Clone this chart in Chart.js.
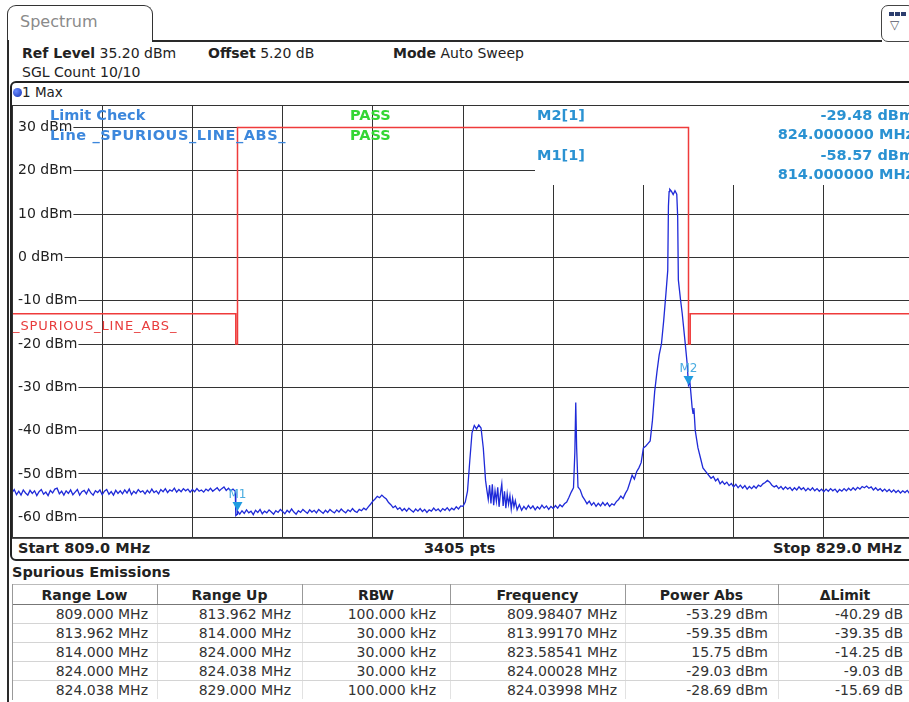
<!DOCTYPE html>
<html>
<head>
<meta charset="utf-8">
<script src="https://cdn.jsdelivr.net/npm/chart.js@4.4.1/dist/chart.umd.min.js"></script>
<style>
html, body { margin:0; padding:0; width:909px; height:702px; overflow:hidden; background:#fff; }
body { position:relative; font-family:"DejaVu Sans", Verdana, sans-serif; font-size:14px; color:#222; }
.a { position:absolute; white-space:nowrap; line-height:1; }
.b { font-weight:bold; }
.ov { font-weight:bold; font-size:14.5px; }
.hl { position:absolute; background:#2a2a2a; }
.cell { position:absolute; white-space:nowrap; line-height:19px; height:19px; color:#333; }
</style>
</head>
<body>

<!-- tab + header frame -->
<div class="a" style="left:7px;top:5px;width:144px;height:36px;border:1.5px solid #333;border-bottom:none;border-radius:9px 9px 0 0;"></div>
<div class="a" style="left:20px;top:14px;font-size:16px;color:#8a8a8a;">Spectrum</div>
<div class="hl" style="left:152px;top:40px;width:730px;height:1.5px;"></div>
<div class="a" style="left:881px;top:5px;width:32px;height:35px;border:1.5px solid #444;border-radius:7px;"></div>
<div class="a" style="left:889px;top:12px;width:5px;height:4px;background:#2c3e6e;"></div>
<div class="a" style="left:895px;top:12px;width:5px;height:4px;background:#2c3e6e;"></div>
<div class="a" style="left:901px;top:12px;width:5px;height:4px;background:#2c3e6e;"></div>
<div class="a" style="left:890px;top:19px;font-size:12px;color:#556;">&#9661;</div>
<div class="hl" style="left:7px;top:40px;width:1.5px;height:662px;"></div>

<div class="a" style="left:22px;top:46px;"><span class="b">Ref Level</span> 35.20 dBm</div>
<div class="a" style="left:208px;top:46px;"><span class="b">Offset</span> 5.20 dB</div>
<div class="a" style="left:393px;top:46px;"><span class="b">Mode</span> Auto Sweep</div>
<div class="a" style="left:22px;top:65px;">SGL Count 10/10</div>

<!-- trace window box -->
<div class="a" style="left:10px;top:81px;width:905px;height:476px;border:2px solid #222;border-radius:6px 0 0 6px;"></div>
<div class="a" style="left:13px;top:88px;width:9px;height:9px;border-radius:50%;background:radial-gradient(circle at 35% 35%, #6b8cff, #1330b0);"></div>
<div class="a" style="left:22px;top:86px;font-size:13.5px;">1 Max</div>

<div id="plot" class="a" style="left:12px;top:105px;width:902px;height:433px;">
  <canvas id="spec" width="902" height="433"></canvas>
</div>

<!-- overlay texts inside the diagram -->
<div class="a ov" style="left:50px;top:108px;color:#3c87dc;">Limit Check</div>
<div class="a ov" style="left:50px;top:128px;color:#3c87dc;letter-spacing:0.6px;">Line _SPURIOUS_LINE_ABS_</div>
<div class="a ov" style="left:350px;top:108px;color:#34d634;">PASS</div>
<div class="a ov" style="left:350px;top:128px;color:#34d634;">PASS</div>
<div class="a ov" style="left:537px;top:108px;color:#2a92d2;">M2[1]</div>
<div class="a ov" style="left:537px;top:148px;color:#2a92d2;">M1[1]</div>
<div class="a ov" style="right:-5px;top:108px;color:#2a92d2;">-29.48 dBm</div>
<div class="a ov" style="right:-5px;top:127px;color:#2a92d2;">824.000000 MHz</div>
<div class="a ov" style="right:-5px;top:148px;color:#2a92d2;">-58.57 dBm</div>
<div class="a ov" style="right:-5px;top:167px;color:#2a92d2;">814.000000 MHz</div>
<div class="a" style="left:13px;top:319px;font-size:13px;letter-spacing:0.9px;color:#e83c3c;">_SPURIOUS_LINE_ABS_</div>

<!-- footer of the diagram -->
<div class="hl" style="left:12px;top:538px;width:902px;height:1px;background:#555;"></div>
<div class="a b" style="left:18px;top:541px;font-size:14.5px;">Start 809.0 MHz</div>
<div class="a b" style="left:424px;top:541px;font-size:14.5px;">3405 pts</div>
<div class="a b" style="left:773px;top:541px;font-size:14.5px;">Stop 829.0 MHz</div>

<div class="a b" style="left:12px;top:565px;font-size:14.5px;">Spurious Emissions</div>
<div id="table"></div>

<script>
// sweep axis (MHz) and level axis (dBm)
const freqTicks = [809, 811, 813, 815, 817, 819, 821, 823, 825, 827, 829];
const levelTicks = [30, 20, 10, 0, -10, -20, -30, -40, -50, -60];
const levelLabels = ['30 dBm', '20 dBm', '10 dBm', '0 dBm', '-10 dBm', '-20 dBm', '-30 dBm', '-40 dBm', '-50 dBm', '-60 dBm'];

// limit line _SPURIOUS_LINE_ABS_
const limitFreq = [809, 813.962, 814, 824, 824.038, 829];
const limitLevel = [-13, -20, 30, -20, -13, -13];

// trace 1 (max hold)
const traceFreq = [
  809.00, 809.05, 809.10, 809.15, 809.20, 809.25, 809.30, 809.35, 809.40, 809.45, 809.50, 809.55, 809.60, 809.65, 809.70, 809.75, 809.80, 809.85, 809.90, 809.95,
  810.00, 810.05, 810.10, 810.15, 810.20, 810.25, 810.30, 810.35, 810.40, 810.45, 810.50, 810.55, 810.60, 810.65, 810.70, 810.75, 810.80, 810.85, 810.90, 810.95,
  811.00, 811.05, 811.10, 811.15, 811.20, 811.25, 811.30, 811.35, 811.40, 811.45, 811.50, 811.55, 811.60, 811.65, 811.70, 811.75, 811.80, 811.85, 811.90, 811.95,
  812.00, 812.05, 812.10, 812.15, 812.20, 812.25, 812.30, 812.35, 812.40, 812.45, 812.50, 812.55, 812.60, 812.65, 812.70, 812.75, 812.80, 812.85, 812.90, 812.95,
  813.00, 813.05, 813.10, 813.15, 813.20, 813.25, 813.30, 813.35, 813.40, 813.45, 813.50, 813.55, 813.60, 813.65, 813.70, 813.75, 813.80, 813.85, 813.90, 813.95,
  813.96, 813.965, 813.99, 814.00,
  814.05, 814.10, 814.15, 814.20, 814.25, 814.30, 814.35, 814.40, 814.45, 814.50, 814.55, 814.60, 814.65, 814.70, 814.75, 814.80, 814.85, 814.90, 814.95,
  815.00, 815.05, 815.10, 815.15, 815.20, 815.25, 815.30, 815.35, 815.40, 815.45, 815.50, 815.55, 815.60, 815.65, 815.70, 815.75, 815.80, 815.85, 815.90, 815.95,
  816.00, 816.05, 816.10, 816.15, 816.20, 816.25, 816.30, 816.35, 816.40, 816.45, 816.50, 816.55, 816.60, 816.65, 816.70, 816.75, 816.80, 816.85, 816.90, 816.95,
  817.00, 817.05, 817.10, 817.15, 817.20, 817.25, 817.30, 817.35, 817.40, 817.45, 817.50, 817.55, 817.60, 817.65, 817.70, 817.75, 817.80, 817.85, 817.90, 817.95,
  818.00, 818.05, 818.10, 818.15, 818.20, 818.25, 818.30, 818.35, 818.40, 818.45, 818.50, 818.55, 818.60, 818.65, 818.70, 818.75, 818.80, 818.85, 818.90, 818.95,
  819.00, 819.05, 819.10, 819.15, 819.20, 819.25, 819.30, 819.35, 819.40, 819.45, 819.50,
  819.53, 819.56, 819.59, 819.62, 819.65, 819.68, 819.71, 819.74, 819.77, 819.80, 819.83, 819.86, 819.89, 819.92, 819.95, 819.98, 820.01, 820.04, 820.07, 820.10, 820.13, 820.16, 820.20, 820.25, 820.30,
  820.35, 820.40, 820.45, 820.50, 820.55, 820.60, 820.65, 820.70, 820.75, 820.80, 820.85, 820.90, 820.95,
  821.00, 821.05, 821.10, 821.15, 821.20, 821.25, 821.30, 821.35, 821.40, 821.45, 821.48, 821.50, 821.52, 821.55, 821.60, 821.65, 821.70, 821.75, 821.80, 821.85, 821.90, 821.95,
  822.00, 822.05, 822.10, 822.15, 822.20, 822.25, 822.30, 822.35, 822.40, 822.45, 822.50, 822.55, 822.60, 822.65, 822.70, 822.75, 822.80, 822.85, 822.90, 822.95,
  823.00, 823.05, 823.10, 823.15, 823.20, 823.25, 823.30, 823.35, 823.40, 823.45, 823.50, 823.54, 823.555, 823.57, 823.585, 823.62, 823.66, 823.70, 823.74, 823.76, 823.775, 823.82, 823.86, 823.92, 823.97,
  824.00, 824.03, 824.05, 824.08, 824.10, 824.12, 824.15, 824.21, 824.27, 824.32, 824.41, 824.50, 824.55,
  824.60, 824.65, 824.70, 824.75, 824.80, 824.85, 824.90, 824.95,
  825.00, 825.05, 825.10, 825.15, 825.20, 825.25, 825.30, 825.35, 825.40, 825.45, 825.50, 825.55, 825.60, 825.65, 825.70, 825.75, 825.80, 825.85, 825.90, 825.95,
  826.00, 826.05, 826.10, 826.15, 826.20, 826.25, 826.30, 826.35, 826.40, 826.45, 826.50, 826.55, 826.60, 826.65, 826.70, 826.75, 826.80, 826.85, 826.90, 826.95,
  827.00, 827.05, 827.10, 827.15, 827.20, 827.25, 827.30, 827.35, 827.40, 827.45, 827.50, 827.55, 827.60, 827.65, 827.70, 827.75, 827.80, 827.85, 827.90, 827.95,
  828.00, 828.05, 828.10, 828.15, 828.20, 828.25, 828.30, 828.35, 828.40, 828.45, 828.50, 828.55, 828.60, 828.65, 828.70, 828.75, 828.80, 828.85, 828.90, 828.95,
  829.00
];
const traceLevel = [
  -54.3, -53.6, -54.8, -54.0, -54.9, -53.7, -54.4, -54.9, -53.8, -54.5, -53.9, -55.0, -54.1, -53.6, -54.7, -54.2, -55.0, -53.8, -54.4, -53.5,
  -53.3, -54.6, -54.0, -54.9, -53.9, -54.5, -53.7, -54.8, -54.2, -53.6, -54.9, -54.1, -53.8, -54.6, -53.5, -54.4, -54.9, -53.9, -54.3, -53.7,
  -54.8, -54.0, -53.6, -54.7, -54.1, -54.9, -53.8, -54.5, -53.9, -54.6, -53.7, -54.4, -53.5, -54.8, -54.0, -54.5, -53.6, -54.2, -53.9, -54.6,
  -53.8, -54.4, -53.5, -54.3, -53.9, -54.6, -53.6, -54.1, -53.4, -54.3, -53.7, -54.0, -53.3, -54.2, -53.6, -54.1, -53.4, -53.9, -53.5, -54.2,
  -53.6, -54.1, -53.4, -54.0, -53.7, -54.2, -53.5, -53.9, -53.3, -54.0, -53.6, -53.2, -53.9, -53.4, -53.0, -53.8, -53.3, -53.9, -53.5, -54.0,
  -54.1, -59.6, -59.35, -58.57,
  -59.3, -58.5, -59.1, -58.3, -59.0, -58.6, -59.4, -58.4, -58.9, -58.2, -59.2, -58.6, -59.0, -58.3, -58.8, -59.3, -58.5, -58.9, -58.2,
  -58.7, -59.2, -58.4, -58.9, -58.1, -58.8, -59.3, -58.5, -58.9, -58.2, -58.7, -59.1, -58.3, -58.8, -58.4, -59.0, -58.2, -58.7, -59.1, -58.4,
  -58.9, -58.2, -58.7, -59.0, -58.3, -58.8, -58.1, -58.6, -59.0, -58.3, -58.7, -58.0, -58.6, -58.9, -58.2, -58.5, -57.9, -58.3, -57.6, -57.0,
  -56.3, -55.8, -55.2, -55.5, -54.9, -55.4, -55.8, -56.6, -57.1, -57.8, -57.4, -58.2, -57.8, -58.5, -58.0, -58.6, -57.9, -58.4, -58.8, -58.1,
  -58.6, -58.0, -58.7, -58.2, -58.9, -58.3, -58.6, -57.9, -58.5, -58.1, -58.7, -58.0, -58.4, -57.8, -58.5, -57.9, -58.3, -57.6, -58.1, -57.4,
  -57.5, -56.5, -54.0, -47.0, -40.5, -38.8, -39.6, -38.7, -39.4, -44.0, -51.5,
  -53.8, -55.9, -52.6, -56.8, -52.4, -57.2, -53.9, -56.3, -53.1, -57.6, -54.5, -52.3, -57.4, -54.0, -57.9, -54.6, -57.0, -55.0, -58.1, -55.6, -57.6, -56.2, -58.3, -57.1, -58.4,
  -57.5, -58.2, -57.3, -58.0, -57.4, -58.3, -57.6, -58.1, -57.2, -57.9, -57.4, -58.2, -57.5,
  -58.0, -57.3, -57.9, -57.1, -57.6, -56.9, -56.5, -55.4, -54.2, -53.2, -45.0, -33.5, -44.0, -53.0, -53.7, -55.2, -56.0, -56.9, -56.3, -57.2, -56.6, -57.5,
  -56.8, -57.4, -56.6, -57.3, -56.7, -57.5, -56.9, -57.2, -56.4, -55.9, -55.1, -55.7, -54.5, -53.6, -52.0, -50.3, -51.2, -49.5, -48.6, -47.4,
  -44.0, -43.6, -43.0, -42.4, -37.7, -31.0, -26.5, -22.5, -20.0, -14.6, -8.3, -3.0, 11.8, 15.2, 15.75, 15.3, 14.5, 15.4, 14.6, 9.4, -5.2, -9.5, -12.9, -19.1, -24.5,
  -29.48, -28.69, -31.0, -34.6, -36.0, -34.8, -40.0, -44.0, -46.5, -48.6, -49.8, -51.0, -50.6,
  -51.6, -51.1, -52.3, -51.7, -52.4, -51.9, -52.7, -52.2,
  -53.0, -52.4, -53.2, -52.6, -53.3, -52.7, -53.5, -52.9, -53.4, -52.8, -53.3, -52.6, -52.9, -52.3, -52.0, -51.5, -51.9, -52.6, -53.0, -52.7,
  -53.4, -52.9, -53.6, -53.0, -53.5, -53.1, -53.8, -53.2, -53.7, -53.0, -53.6, -53.2, -53.9, -53.3, -53.8, -53.2, -53.9, -53.4, -54.0, -53.5,
  -54.1, -53.5, -54.0, -53.4, -53.9, -53.5, -54.2, -53.6, -54.0, -53.4, -53.9, -53.3, -53.8, -53.2, -53.7, -53.1, -53.5, -52.9, -53.2, -52.8,
  -53.3, -53.0, -53.7, -53.2, -53.8, -53.4, -54.0, -53.5, -54.1, -53.6, -54.2, -53.7, -54.3, -53.8, -54.4, -53.9, -54.3, -53.8, -54.5, -54.0,
  -54.4
];
if (traceFreq.length !== traceLevel.length) console.error('trace length mismatch', traceFreq.length, traceLevel.length);

// markers
const markerName = ['M1', 'M2'];
const markerFreq = [814.0, 824.0];
const markerLevel = [-58.57, -29.48];

// spurious emissions table
const tableHead = ['Range Low', 'Range Up', 'RBW', 'Frequency', 'Power Abs', '\u0394Limit'];
const rangeLow = ['809.000 MHz', '813.962 MHz', '814.000 MHz', '824.000 MHz', '824.038 MHz'];
const rangeUp = ['813.962 MHz', '814.000 MHz', '824.000 MHz', '824.038 MHz', '829.000 MHz'];
const rbw = ['100.000 kHz', '30.000 kHz', '30.000 kHz', '30.000 kHz', '100.000 kHz'];
const spurFreq = ['809.98407 MHz', '813.99170 MHz', '823.58541 MHz', '824.00028 MHz', '824.03998 MHz'];
const powerAbs = ['-53.29 dBm', '-59.35 dBm', '15.75 dBm', '-29.03 dBm', '-28.69 dBm'];
const deltaLimit = ['-40.29 dB', '-39.35 dB', '-14.25 dB', '-9.03 dB', '-15.69 dB'];

// table
const colEdges = [12, 157, 302, 450, 625, 778, 912];
const colRight = [148, 291, 436, 617, 768, 903];
const columns = [rangeLow, rangeUp, rbw, spurFreq, powerAbs, deltaLimit];
const tbl = document.getElementById('table');
let html = '';
const headTop = 586, rowH = 19;
html += `<div class="a" style="left:12px;top:${headTop - 2}px;width:897px;height:1px;background:#bbb"></div>`;
for (let c = 0; c < tableHead.length; c++) {
  const l = colEdges[c], w = colEdges[c + 1] - l;
  html += `<div class="cell b" style="left:${l}px;top:${headTop}px;width:${w}px;text-align:center;color:#222">${tableHead[c]}</div>`;
  if (c > 0) html += `<div class="a" style="left:${l}px;top:${headTop - 2}px;width:1px;height:${rowH + 2}px;background:#999"></div>`;
}
for (let r = 0; r < rangeLow.length; r++) {
  const top = headTop + rowH * (r + 1);
  html += `<div class="a" style="left:12px;top:${top - 1}px;width:897px;height:1px;background:${r === 0 ? '#777' : '#d4d4d4'}"></div>`;
  for (let c = 0; c < columns.length; c++) {
    html += `<div class="cell" style="right:${909 - colRight[c]}px;top:${top}px;">${columns[c][r]}</div>`;
    if (c > 0) html += `<div class="a" style="left:${colEdges[c]}px;top:${top}px;width:1px;height:${rowH - 1}px;background:#e2e2e2"></div>`;
  }
}
html += `<div class="a" style="left:12px;top:${headTop - 2}px;width:1px;height:${rowH * 6 + 2}px;background:#999"></div>`;
tbl.innerHTML = html;

// chart
const gridColor = '#333';

const plotDecor = {
  id: 'plotDecor',
  beforeDatasetsDraw(chart) {
    const {ctx, chartArea} = chart;
    // marker info field covers the upper right part of the grid
    ctx.save();
    ctx.fillStyle = '#fff';
    ctx.fillRect(chartArea.left + 523, chartArea.top, chartArea.right - chartArea.left - 523, 80);
    ctx.restore();
  },
  afterDatasetsDraw(chart) {
    const {ctx, chartArea, scales} = chart;
    ctx.save();
    ctx.strokeStyle = '#333';
    ctx.lineWidth = 1;
    ctx.strokeRect(chartArea.left + 0.5, chartArea.top + 0.5, chartArea.right - chartArea.left - 1, chartArea.bottom - chartArea.top - 1);
    ctx.font = '12px "DejaVu Sans", Verdana, sans-serif';
    ctx.textAlign = 'center';
    ctx.textBaseline = 'bottom';
    for (let i = 0; i < markerName.length; i++) {
      const px = scales.x.getPixelForValue(markerFreq[i]);
      const py = scales.y.getPixelForValue(markerLevel[i]);
      ctx.fillStyle = '#1f9be0';
      ctx.beginPath();
      ctx.moveTo(px - 5, py - 9);
      ctx.lineTo(px + 5, py - 9);
      ctx.lineTo(px, py);
      ctx.closePath();
      ctx.fill();
      ctx.fillStyle = '#49ace0';
      ctx.fillText(markerName[i], px, py - 10);
    }
    ctx.restore();
  }
};

new Chart(document.getElementById('spec'), {
  type: 'line',
  data: {
    datasets: [{
      label: 'Limit',
      data: limitFreq.map((f, i) => ({x: f, y: limitLevel[i]})),
      borderColor: '#ef3b3b',
      borderWidth: 1.5,
      pointRadius: 0,
      stepped: 'before'
    }, {
      label: 'Trace 1',
      data: traceFreq.map((f, i) => ({x: f, y: traceLevel[i]})),
      borderColor: '#1f2ad8',
      borderWidth: 1.3,
      pointRadius: 0,
      tension: 0
    }]
  },
  options: {
    responsive: false,
    animation: false,
    events: [],
    layout: { padding: 0 },
    scales: {
      x: {
        type: 'linear',
        min: 809,
        max: 829,
        afterBuildTicks: s => { s.ticks = freqTicks.map(v => ({value: v})); },
        ticks: { display: false },
        grid: { color: gridColor, drawTicks: false },
        border: { display: false }
      },
      y: {
        type: 'linear',
        min: -64.8,
        max: 35.2,
        afterBuildTicks: s => { s.ticks = levelTicks.map(v => ({value: v})); },
        afterFit: s => { s.width = 0; s.paddingTop = 0; s.paddingBottom = 0; },
        ticks: {
          mirror: true,
          padding: 6,
          color: '#222',
          font: { family: '"DejaVu Sans", Verdana, sans-serif', size: 14 },
          showLabelBackdrop: true,
          backdropColor: '#fff',
          backdropPadding: { top: 0, bottom: 0, left: 5, right: 1 },
          callback: (v, i) => levelLabels[i]
        },
        grid: { color: gridColor, drawTicks: false },
        border: { display: false }
      }
    },
    plugins: {
      legend: { display: false },
      tooltip: { enabled: false }
    }
  },
  plugins: [plotDecor]
});
</script>
</body>
</html>
